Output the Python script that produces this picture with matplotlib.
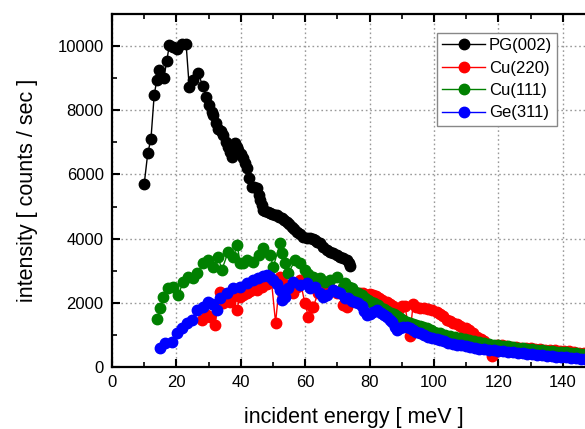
import matplotlib
matplotlib.use("Agg")
import matplotlib.pyplot as plt
from matplotlib.ticker import MultipleLocator

# ---------------- data ----------------
pg002_x = [10.0, 11.1, 12.1, 13.1, 13.9, 14.7, 16.1, 17.0, 17.8, 19.0, 20.3, 21.6, 23.0,
           24.0, 25.3, 26.8, 28.2, 29.2, 30.2, 31.0, 31.5, 32.2, 33.0, 33.8, 34.6, 35.3,
           36.1, 36.7, 37.2, 37.8, 38.2, 38.8, 39.2, 40.0, 40.8, 41.4, 42.0, 42.7, 43.4,
           44.1, 44.9, 45.5, 46.0, 46.5, 47.0, 47.6, 48.3, 49.1, 49.8, 50.5, 51.1, 51.9,
           52.7, 53.5, 54.3, 55.0, 55.8, 56.6, 57.4, 58.4, 59.4, 60.5, 61.5, 62.3, 63.0,
           63.8, 64.6, 65.6, 66.7, 67.7, 68.7, 69.8, 70.8, 71.8, 72.9, 73.5, 73.9]
pg002_y = [5700, 6660, 7110, 8470, 8940, 9250, 9000, 9530, 10030, 9980, 9900, 10060, 10080,
           8710, 8940, 9150, 8750, 8420, 8160, 7950, 7850, 7600, 7430, 7350, 7230, 7000,
           6860, 6700, 6550, 6800, 6970, 6850, 6760, 6650, 6500, 6350, 6190, 5900, 5620,
           5600, 5570, 5350, 5200, 5050, 4890, 4850, 4820, 4790, 4770, 4750, 4735, 4680,
           4630, 4580, 4530, 4450, 4370, 4290, 4215, 4130, 4060, 4030, 4010, 3980, 3960,
           3900, 3850, 3750, 3645, 3580, 3540, 3480, 3436, 3385, 3333, 3250, 3150]

cu220_x = [27.9, 29.4, 30.5, 32.0, 33.5, 34.5, 35.6, 36.6, 37.5, 38.7, 39.8, 40.8, 41.8,
           42.9, 43.9, 45.0, 46.5, 48.0, 49.5, 50.8, 52.2, 53.2, 54.3, 55.5, 56.3, 57.5,
           58.4, 59.9, 61.0, 62.0, 62.5, 64.0, 65.5, 67.2, 68.7, 70.0, 71.8, 72.9, 74.0,
           75.0, 76.0, 77.0, 78.0, 79.0, 80.0, 81.2, 82.0, 83.0, 84.0, 85.3, 86.3, 87.2,
           88.2, 89.0, 90.0, 91.0, 92.5, 93.5, 94.5, 95.7, 97.0, 98.0, 99.5, 100.8, 101.8,
           102.8, 104.0, 105.0, 106.0, 107.0, 108.0, 109.1, 110.0, 111.0, 112.0, 113.3,
           114.5, 115.5, 116.5, 117.4, 117.9, 119.5, 121.0, 122.5, 124.0, 125.5, 127.0,
           128.5, 130.0, 131.5, 133.0, 134.5, 136.0, 137.5, 139.0, 140.5, 142.0, 143.5,
           145.0, 146.5, 148.0, 150.0]
cu220_y = [1464, 1620, 1550, 1308, 2345, 2000, 2100, 2034, 2200, 1776, 2190, 2250, 2295,
           2380, 2450, 2398, 2500, 2600, 2700, 1380, 2813, 2607, 2500, 2450, 2295, 2500,
           2710, 1984, 1567, 1878, 1878, 2300, 2450, 2554, 2398, 2300, 1931, 1878, 2100,
           2190, 2250, 2295, 2300, 2250, 2280, 2243, 2200, 2150, 2100, 2034, 1960, 1900,
           1750, 1800, 1900, 1900, 965, 1950, 1880, 1850, 1830, 1800, 1780, 1723, 1650,
           1600, 1464, 1420, 1380, 1330, 1280, 1230, 1200, 1150, 1050, 950,
           880, 800, 720, 650, 343, 685, 670, 650, 630, 615, 600,
           590, 580, 570, 555, 545, 535, 525, 510, 500, 485, 470,
           450, 430, 415, 400]

cu111_x = [13.9, 14.9, 15.9, 17.5, 19.0, 20.6, 22.1, 23.7, 25.2, 26.3, 28.4, 29.9, 31.5,
           33.0, 34.1, 36.1, 37.7, 38.9, 39.8, 40.8, 41.8, 43.9, 45.5, 47.0, 49.1, 50.1,
           52.2, 52.7, 53.7, 54.8, 56.8, 58.4, 59.9, 61.0, 62.5, 64.6, 66.0, 67.7, 69.8,
           71.8, 72.4, 73.5, 74.5, 75.5, 76.5, 77.5, 78.5, 79.5, 80.5, 81.5, 82.5, 83.5,
           84.5, 85.5, 86.5, 87.5, 88.5, 89.5, 90.5, 91.5, 92.5, 93.5, 94.5, 95.5, 96.7,
           97.8, 99.0, 100.0, 101.0, 102.0, 103.5, 105.0, 106.5, 108.0, 109.5, 111.0,
           112.5, 114.0, 115.5, 117.0, 118.5, 120.0, 121.5, 123.0, 124.5, 126.0, 127.5,
           129.0, 130.5, 132.0, 133.5, 135.0, 136.5, 138.0, 139.5, 141.0, 142.5, 144.0,
           145.5, 147.0, 148.5, 150.0]
cu111_y = [1485, 1828, 2190, 2450, 2500, 2243, 2657, 2813, 2763, 2919, 3230, 3333, 3124,
           3436, 3022, 3592, 3436, 3800, 3230, 3230, 3333, 3280, 3500, 3697, 3490, 3124,
           3853, 3540, 3230, 2919, 3333, 3230, 3022, 2900, 2813, 2763, 2650, 2710, 2813,
           2500, 2607, 2500, 2450, 2350, 2295, 2250, 2150, 2100, 2030, 1984, 1920, 1850,
           1800, 1740, 1690, 1640, 1600, 1520, 1450, 1400, 1360, 1330, 1300, 1280, 1255,
           1200, 1150, 1100, 1070, 1050, 1000, 970, 930, 900, 870, 840,
           810, 780, 745, 715, 695, 680, 660, 640, 620, 600, 585,
           570, 555, 540, 525, 510, 495, 480, 470, 460, 445, 435,
           420, 410, 400, 390]

ge311_x = [14.9, 16.5, 18.5, 20.1, 21.6, 23.2, 24.8, 26.3, 28.4, 29.9, 31.0, 32.5, 33.5,
           35.6, 37.7, 39.8, 41.8, 43.9, 45.4, 47.0, 48.0, 49.0, 50.1, 51.2, 52.2, 52.7,
           53.7, 54.8, 56.3, 58.4, 60.5, 61.5, 63.0, 64.6, 65.5, 66.7, 68.7, 69.8, 70.8,
           72.4, 73.4, 74.5, 75.5, 76.5, 77.5, 78.3, 79.1, 80.0, 81.0, 82.2, 83.5, 84.5,
           85.3, 86.2, 87.0, 87.8, 88.4, 89.5, 90.5, 91.5, 92.5, 93.5, 94.5, 95.7, 96.8,
           98.0, 99.3, 100.8, 102.0, 103.2, 104.5, 105.8, 107.0, 108.5, 110.0, 111.2,
           112.7, 114.0, 115.5, 117.0, 118.5, 120.0, 121.5, 123.0, 124.5, 126.0, 127.5,
           129.0, 130.5, 132.0, 133.5, 135.0, 136.5, 138.0, 139.5, 141.0, 142.5, 144.0,
           145.5, 147.0, 148.5, 150.0]
ge311_y = [582, 738, 788, 1050, 1205, 1361, 1464, 1776, 1878, 2034, 1950, 1776, 2140,
           2295, 2450, 2500, 2607, 2710, 2763, 2850, 2866, 2800, 2710, 2600, 2398, 2087,
           2190, 2450, 2657, 2554, 2607, 2450, 2500, 2295, 2190, 2243, 2398, 2345, 2295,
           2140, 2140, 2050, 2040, 2000, 1900, 1750, 1620, 1650, 1720, 1776, 1680, 1620,
           1567, 1480, 1400, 1250, 1153, 1200, 1240, 1255, 1200, 1150, 1100, 1050, 1000,
           950, 910, 880, 840, 800, 760, 730, 700, 670, 640, 610,
           590, 575, 560, 545, 530, 510, 495, 480, 460, 440, 425,
           410, 400, 385, 370, 355, 340, 325, 310, 300, 285, 270,
           255, 240, 225, 210]

series = [
    ("PG(002)", pg002_x, pg002_y, "black"),
    ("Cu(220)", cu220_x, cu220_y, "#ff0000"),
    ("Cu(111)", cu111_x, cu111_y, "#008000"),
    ("Ge(311)", ge311_x, ge311_y, "#0000ff"),
]

x_major = 20
x_minor = 10
y_major = 2000
y_minor = 1000

# ---------------- figure ----------------
plt.rcParams["font.family"] = ["Liberation Sans", "DejaVu Sans"]
fig = plt.figure(figsize=(5.85, 4.29), dpi=100)
W, H = 585.0, 429.0
left_px, bottom_px, top_px = 112.0, 367.0, 14.0
px_per_unit = 3.22
xmax = 150
ax = fig.add_axes([left_px / W, 1 - bottom_px / H,
                   xmax * px_per_unit / W, (bottom_px - top_px) / H])

for name, xs, ys, c in series:
    ax.plot(xs, ys, "-o", color=c, markerfacecolor=c, markeredgecolor=c,
            markersize=7.5, linewidth=1.0, label=name)

ax.set_xlim(0, xmax)
ax.set_ylim(0, 11000)
ax.xaxis.set_major_locator(MultipleLocator(x_major))
ax.xaxis.set_minor_locator(MultipleLocator(x_minor))
ax.yaxis.set_major_locator(MultipleLocator(y_major))
ax.yaxis.set_minor_locator(MultipleLocator(y_minor))

ax.grid(True, which="major", linestyle=(0, (1.2, 2.0)), color="#999999", linewidth=1.0)
ax.set_axisbelow(True)

ax.tick_params(which="both", direction="in", top=True, right=True)
ax.tick_params(which="major", length=6, width=1.5, labelsize=12, pad=6)
ax.tick_params(which="minor", length=3.5, width=1.2)
for s in ax.spines.values():
    s.set_linewidth(1.6)

ax.set_xlabel("incident energy [ meV ]", fontsize=15.5, labelpad=12)
ax.set_ylabel("intensity [ counts / sec ]", fontsize=15.5, labelpad=14)

leg = ax.legend(loc="upper left", bbox_to_anchor=((437 - left_px) / (xmax * px_per_unit),
                                                  (bottom_px - 33) / (bottom_px - top_px)),
                fontsize=12, handlelength=2.6, handletextpad=0.2, labelspacing=0.45,
                borderpad=0.3, borderaxespad=0, fancybox=False, framealpha=1,
                edgecolor="#888888")
leg.get_frame().set_linewidth(1.0)

fig.savefig("out.png", dpi=100)
